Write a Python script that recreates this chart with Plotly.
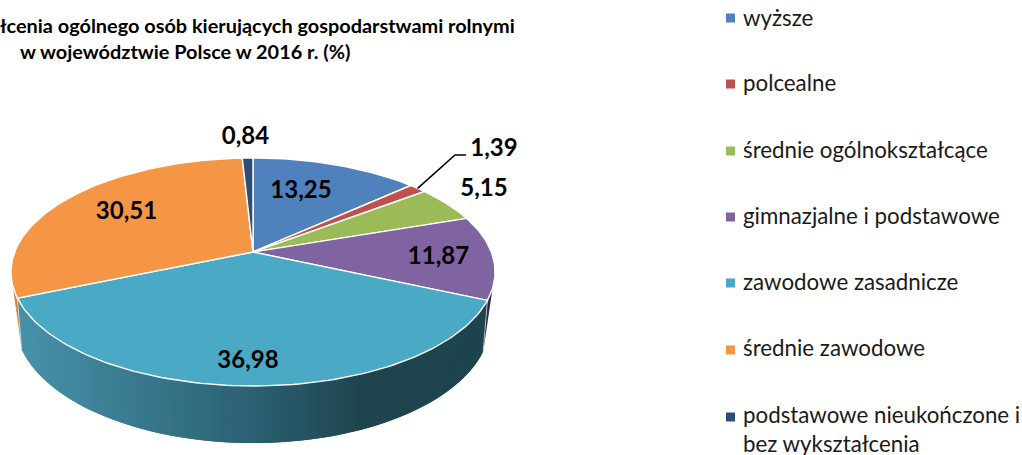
import math
import plotly.graph_objects as go

# ---- data ----
categories = ["wyższe", "polcealne", "średnie ogólnokształcące", "gimnazjalne i podstawowe",
              "zawodowe zasadnicze", "średnie zawodowe", "podstawowe nieukończone i<br>bez wykształcenia"]
values = [13.25, 1.39, 5.15, 11.87, 36.98, 30.51, 0.84]
value_labels = ["13,25", "1,39", "5,15", "11,87", "36,98", "30,51", "0,84"]
title_lines = ["łcenia ogólnego osób kierujących gospodarstwami rolnymi",
               "w województwie Polsce w 2016 r. (%)"]

# ---- style ----
colors = ["#4F81BD", "#C0504D", "#9BBB59", "#8064A2", "#4AA9C4", "#F59646", "#2C4D75"]
FONT = "Lato, Carlito, Calibri, sans-serif"
CX, CY = 253, 252
K = 0.1754
TOP_A, TOP_B = 110.5, 238.3
BOT_A, BOT_B, BOT_D = 118.0, 234.0, 48.0
SLIVER = math.radians(6)
side_stops = [(20, (70, 146, 170)), (100, (62, 130, 152)), (253, (43, 98, 116)),
              (370, (30, 68, 78)), (490, (30, 68, 78))]
label_pos = [(301, 192), (494, 150), (484, 190), (438.5, 258), (248, 362), (126.5, 213), (245.5, 138)]
legend_y = [18, 84, 151, 217, 283, 350, 417]
text_y = [17, 82, 149, 215, 281, 347, 429]


def top(t):
    u, v = math.sin(t), -math.cos(t)
    d = 1 - K * v
    return CX + TOP_B * u / d, CY + TOP_A * v / d


def bottom(t):
    u, v = math.sin(t), -math.cos(t)
    d = 1 - K * v
    return CX + BOT_B * u / d, CY + BOT_D + BOT_A * v / d


def arc(f, a, b, n):
    return [f(a + (b - a) * i / n) for i in range(n + 1)]


def side_color(x):
    for (x0, c0), (x1, c1) in zip(side_stops, side_stops[1:]):
        if x <= x1:
            f = max(0, (x - x0) / (x1 - x0))
            return "rgb(%d,%d,%d)" % tuple(round(p + (q - p) * f) for p, q in zip(c0, c1))
    return "rgb(%d,%d,%d)" % side_stops[-1][1]


total = sum(values)
edges = [0]
for val in values:
    edges.append(edges[-1] + val / total * 2 * math.pi)

fig = go.Figure()


def poly(pts, fill, line=None, width=1):
    fig.add_trace(go.Scatter(x=[p[0] for p in pts] + [pts[0][0]], y=[p[1] for p in pts] + [pts[0][1]],
                             mode="lines", fill="toself", fillcolor=fill,
                             line=dict(color=line or fill, width=width),
                             hoverinfo="skip", showlegend=False))


# thin rim slivers of the neighbouring slices
poly(arc(top, edges[4], edges[4] - SLIVER, 8) + [bottom(edges[4])], "#33264A", width=0)
poly(arc(top, edges[5], edges[5] + SLIVER, 8) + [bottom(edges[5])], "#D9863D", width=0)

# front rim with a stepwise shade, each strip overlapping the next one
N = 90
step = (edges[5] - edges[4]) / N
for i in range(N - 1, -1, -1):
    a = edges[4] + step * i
    b = a + step * (2 if i < N - 1 else 1)
    xm = top(a + step / 2)[0]
    poly(arc(top, a, b, 3) + arc(bottom, b, a, 3), side_color(xm), width=0)

# light seams at both ends of the front rim
for e in (edges[4], edges[5]):
    t, bt = top(e), bottom(e)
    fig.add_trace(go.Scatter(x=[t[0], bt[0]], y=[t[1], bt[1]], mode="lines",
                             line=dict(color="rgba(255,255,255,0.7)", width=0.8),
                             hoverinfo="skip", showlegend=False))

# top faces
for i, col in enumerate(colors):
    poly([(CX, CY)] + arc(top, edges[i], edges[i + 1], max(4, int(values[i] * 3))), col, "#FFFFFF", 1.4)

# leader line for the thin slice
mid = (edges[1] + edges[2]) / 2
px, py = top(mid)
fig.add_trace(go.Scatter(x=[px, 455, 466], y=[py, 155, 155], mode="lines",
                         line=dict(color="#000000", width=1.6), hoverinfo="skip", showlegend=False))

# value labels
fig.add_trace(go.Scatter(x=[p[0] for p in label_pos], y=[p[1] for p in label_pos], mode="text",
                         text=value_labels, textposition="middle center",
                         textfont=dict(family=FONT, size=24, color="#000000", weight=700),
                         hoverinfo="skip", showlegend=False))

# legend
fig.add_trace(go.Scatter(x=[730.5] * len(colors), y=legend_y, mode="markers",
                         marker=dict(symbol="square", size=9, color=colors, line=dict(width=0)),
                         hoverinfo="skip", showlegend=False))
annotations = []
for name, y in zip(categories, text_y):
    annotations.append(dict(x=741, y=y, xref="x", yref="y", text=name, showarrow=False, xanchor="left",
                            yanchor="middle", align="left",
                            font=dict(family=FONT, size=22.3, color="#1A1A1A")))
annotations.append(dict(x=517, y=25, xref="x", yref="y", text=title_lines[0], showarrow=False, xanchor="right",
                        yanchor="middle", font=dict(family=FONT, size=19.9, color="#000000", weight=700)))
annotations.append(dict(x=184.5, y=51, xref="x", yref="y", text=title_lines[1], showarrow=False, xanchor="center",
                        yanchor="middle", font=dict(family=FONT, size=19.9, color="#000000", weight=700)))

fig.update_layout(width=1022, height=455, margin=dict(l=0, r=0, t=0, b=0), autosize=False,
                  paper_bgcolor="#FFFFFF", plot_bgcolor="#FFFFFF", annotations=annotations,
                  xaxis=dict(range=[0, 1022], visible=False, fixedrange=True),
                  yaxis=dict(range=[455, 0], visible=False, fixedrange=True))
fig.write_html("out.html", config={"displayModeBar": False},
               post_script="document.body.style.margin='0';document.body.style.overflow='hidden';")
